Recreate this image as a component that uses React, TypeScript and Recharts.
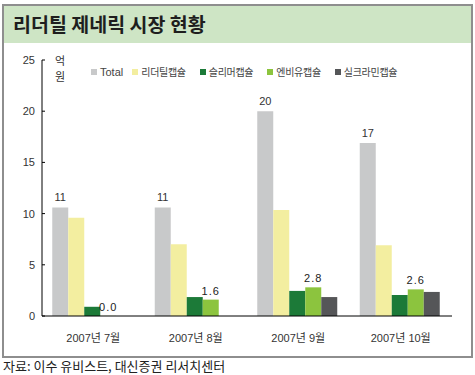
import React from 'react';
import { BarChart, Bar, XAxis, YAxis, LabelList } from 'recharts';

const months = ['2007년 7월', '2007년 8월', '2007년 9월', '2007년 10월'];
const total = [10.6, 10.6, 20.0, 16.9];
const leader = [9.6, 7.0, 10.35, 6.9];
const slimmer = [0.9, 1.85, 2.45, 2.05];
const envi = [0.01, 1.6, 2.8, 2.6];
const silkramin = [0, 0, 1.85, 2.35];
const yTicks = [0, 5, 10, 15, 20, 25];
const boundaryTicks = [1, 2, 3, 4];

const series = [
  { key: 'total', name: 'Total', color: '#c8c9ca' },
  { key: 'leader', name: '리더틸캡슐', color: '#f3eea0' },
  { key: 'slimmer', name: '슬리머캡슐', color: '#1c7a38' },
  { key: 'envi', name: '엔비유캡슐', color: '#8cc43e' },
  { key: 'silkramin', name: '실크라민캡슐', color: '#555658' },
];

const data = months.map((m, i) => ({
  month: m,
  total: total[i],
  leader: leader[i],
  slimmer: slimmer[i],
  envi: envi[i],
  silkramin: silkramin[i],
}));

const font = '"Liberation Sans", "Noto Sans CJK KR", sans-serif';
const kfont = '"Noto Sans CJK KR", sans-serif';

export default function App() {
  return (
    <div style={{ position: 'absolute', left: 0, top: 0, width: 475, height: 375, background: '#fff', fontFamily: font }}>
      <div style={{ position: 'absolute', left: 2, top: 4, width: 467, height: 350, border: '2px solid #8e8e8e', boxSizing: 'content-box' }} />
      <div style={{ position: 'absolute', left: 4, top: 6, width: 467, height: 37, background: '#cee5c5' }} />
      <div style={{ position: 'absolute', left: 13, top: 10, fontSize: 19.5, fontWeight: 'bold', color: '#1e1e1e', fontFamily: kfont, lineHeight: '28px' }}>
        리더틸 제네릭 시장 현황
      </div>
      <BarChart
        width={475}
        height={375}
        data={data}
        margin={{ top: 60, right: 23, bottom: 29, left: 12 }}
        barCategoryGap="10%"
        barGap={0}
        style={{ position: 'absolute', left: 0, top: 0 }}
      >
        <XAxis
          dataKey="month"
          axisLine={{ stroke: '#000' }}
          tickLine={false}
          tick={{ fontSize: 11, fill: '#333', fontFamily: font }}
          tickMargin={12}
          height={30}
        />
        <XAxis
          xAxisId="b"
          type="number"
          domain={[0, 4]}
          ticks={boundaryTicks}
          axisLine={false}
          tickSize={-4}
          tickLine={{ stroke: '#000' }}
          tick={false}
          height={0}
        />
        <YAxis
          domain={[0, 25]}
          ticks={yTicks}
          width={30}
          axisLine={{ stroke: '#000' }}
          tickLine={{ stroke: '#000' }}
          tickSize={-3}
          tickMargin={10}
          tick={{ fontSize: 11, fill: '#333', fontFamily: font }}
        />
        {series.map((s) => (
          <Bar key={s.key} dataKey={s.key} name={s.name} fill={s.color} isAnimationActive={false}>
            {s.key === 'total' && (
              <LabelList dataKey="total" position="top" offset={6} fill="#333" fontSize={11} formatter={(v: number) => Math.round(v)} />
            )}
            {s.key === 'envi' && (
              <LabelList dataKey="envi" position="top" offset={5} fill="#222" fontSize={11} letterSpacing={1} formatter={(v: number) => v.toFixed(1)} />
            )}
          </Bar>
        ))}
      </BarChart>
      <div style={{ position: 'absolute', left: 55, top: 52, fontSize: 11, color: '#333', lineHeight: '16px', fontFamily: kfont }}>
        억<br />원
      </div>
      <div style={{ position: 'absolute', left: 91, top: 64, display: 'flex', alignItems: 'center', fontSize: 10, color: '#444', fontFamily: kfont, lineHeight: '16px' }}>
        {series.map((s) => (
          <div key={s.key} style={{ display: 'flex', alignItems: 'center', marginRight: s.key === 'total' ? 9 : 14 }}>
            <span style={{ display: 'inline-block', width: 6, height: 6, background: s.color, marginRight: 3 }} />
            <span style={{ fontSize: s.key === 'total' ? 11 : 10, letterSpacing: s.key === 'total' ? 0 : -0.3, fontFamily: s.key === 'total' ? font : kfont }}>{s.name}</span>
          </div>
        ))}
      </div>
      <div style={{ position: 'absolute', left: 3, top: 358, fontSize: 13, color: '#222', fontFamily: kfont, lineHeight: '16px' }}>
        자료: 이수 유비스트, 대신증권 리서치센터
      </div>
    </div>
  );
}
